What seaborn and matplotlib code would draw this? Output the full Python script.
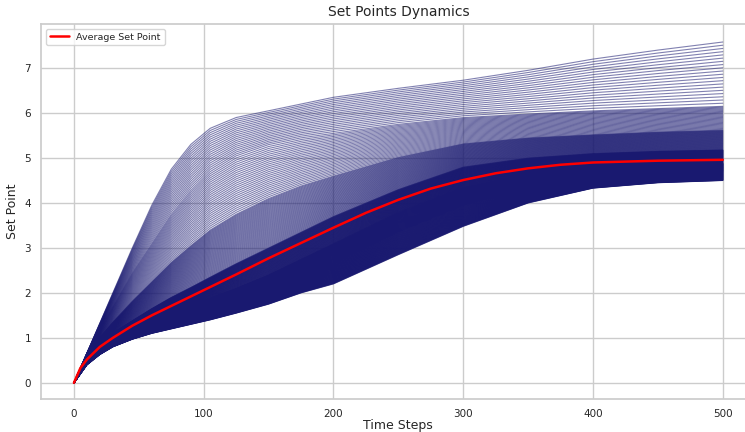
import numpy as np
import pandas as pd
import matplotlib
matplotlib.use("Agg")
import matplotlib.pyplot as plt
import seaborn as sns

# Time steps at which the ensemble is summarised
steps = [0, 10, 20, 30, 45, 60, 75, 90, 105, 125, 150, 175, 200, 250, 300, 350, 400, 450, 500]

# Ensemble quantile bands of the set point (fraction of runs -> value per step)
quantile_levels = [0.0, 0.25, 0.5, 0.75, 0.88, 0.95, 1.0]
q000 = [0, 0.40, 0.63, 0.80, 0.97, 1.10, 1.20, 1.30, 1.40, 1.55, 1.75, 2.00, 2.20, 2.85, 3.48, 4.00, 4.33, 4.45, 4.50]
q025 = [0, 0.47, 0.72, 0.90, 1.08, 1.25, 1.38, 1.50, 1.62, 1.80, 2.05, 2.35, 2.65, 3.35, 3.95, 4.35, 4.55, 4.65, 4.70]
q050 = [0, 0.52, 0.78, 0.97, 1.17, 1.38, 1.55, 1.72, 1.88, 2.10, 2.40, 2.75, 3.10, 3.80, 4.35, 4.62, 4.75, 4.83, 4.88]
q075 = [0, 0.57, 0.88, 1.10, 1.38, 1.65, 1.90, 2.12, 2.35, 2.65, 3.00, 3.35, 3.70, 4.30, 4.80, 5.00, 5.10, 5.15, 5.18]
q088 = [0, 0.61, 1.00, 1.35, 1.82, 2.25, 2.68, 3.05, 3.40, 3.75, 4.10, 4.38, 4.60, 5.02, 5.32, 5.45, 5.52, 5.58, 5.62]
q095 = [0, 0.64, 1.20, 1.70, 2.45, 3.10, 3.75, 4.28, 4.70, 5.05, 5.30, 5.45, 5.55, 5.75, 5.90, 5.98, 6.05, 6.10, 6.15]
q100 = [0, 0.66, 1.33, 2.00, 3.00, 3.95, 4.75, 5.30, 5.66, 5.90, 6.05, 6.20, 6.35, 6.55, 6.73, 6.95, 7.20, 7.40, 7.58]

# Average set point over all runs
avg_steps = [0, 5, 10, 20, 30, 45, 60, 75, 100, 125, 150, 175, 200, 225, 250, 275, 300, 325, 350, 375, 400, 450, 500]
avg_values = [0, 0.33, 0.52, 0.80, 1.00, 1.27, 1.50, 1.71, 2.06, 2.41, 2.77, 3.11, 3.45, 3.78, 4.07, 4.32, 4.51, 4.66, 4.77, 4.85, 4.90, 4.94, 4.96]

n_runs = 400

bands = np.array([q000, q025, q050, q075, q088, q095, q100])
rows = []
for run in range(n_runs):
    frac = run / (n_runs - 1)
    for k, s in enumerate(steps):
        rows.append((run, s, np.interp(frac, quantile_levels, bands[:, k])))
runs = pd.DataFrame(rows, columns=["run", "step", "set_point"])
average = pd.DataFrame({"step": avg_steps, "set_point": avg_values})

sns.set_theme(style="whitegrid")
fig = plt.figure(figsize=(7.45, 4.32), dpi=100)
ax = fig.add_axes([0.0557, 0.0764, 0.958, 0.868])

sns.lineplot(data=runs, x="step", y="set_point", units="run", estimator=None,
             color="midnightblue", alpha=0.55, linewidth=0.8, ax=ax, legend=False)
sns.lineplot(data=average, x="step", y="set_point", color="red", linewidth=1.8,
             label="Average Set Point", ax=ax)

ax.set_xlim(-25, 525)
ax.set_ylim(-0.36, 7.98)
ax.set_xticks([0, 100, 200, 300, 400, 500])
ax.set_yticks([0, 1, 2, 3, 4, 5, 6, 7])
ax.tick_params(axis="x", labelsize=7.5, pad=1)
ax.tick_params(axis="y", labelsize=7.5, pad=1.5)
ax.set_title("Set Points Dynamics", fontsize=10, pad=6)
ax.set_xlabel("Time Steps", fontsize=9, labelpad=0)
ax.set_ylabel("Set Point", fontsize=9, labelpad=4)
ax.legend(loc="upper left", fontsize=6.8, frameon=True)

fig.savefig("out.png", dpi=100)
